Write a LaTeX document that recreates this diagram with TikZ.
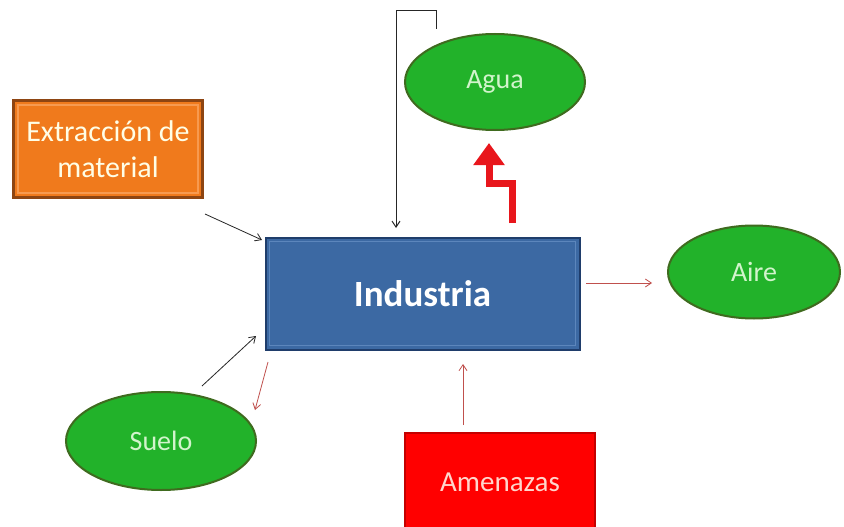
\documentclass[tikz,border=0pt]{standalone}
\usepackage{fontspec}
\setmainfont{Carlito}
\usetikzlibrary{shapes.geometric,arrows.meta}
\definecolor{grfill}{HTML}{22B22A}
\definecolor{grdraw}{HTML}{3F6B1F}
\definecolor{grtext}{HTML}{D2F4CC}
\definecolor{bluefill}{HTML}{3C69A3}
\definecolor{bluedraw}{HTML}{1F3D6B}
\definecolor{bluelite}{HTML}{5C86BC}
\definecolor{orfill}{HTML}{F07A1C}
\definecolor{ordraw}{HTML}{8E4512}
\definecolor{orlite}{HTML}{F79A50}
\definecolor{redfill}{HTML}{FF0000}
\definecolor{reddraw}{HTML}{C40000}
\definecolor{redtext}{HTML}{FFD6CC}
\definecolor{thinred}{HTML}{C0504D}
\definecolor{thickred}{HTML}{E8161C}
\tikzset{
  oval/.style={ellipse, fill=grfill, draw=grdraw, line width=2pt, text=grtext,
    font=\fontsize{28}{32}\selectfont, inner sep=0pt},
  darr/.style={-{Straight Barb[length=6pt,width=8pt]}, line width=0.8pt, black!85},
  rarr/.style={-{Straight Barb[length=6pt,width=8pt]}, line width=0.8pt, thinred},
}
\begin{document}
\begin{tikzpicture}[x=1pt,y=-1pt]
\useasboundingbox (0,0) rectangle (844,527);
\fill[white] (0,0) rectangle (844,527);
% Industria
\node[draw=bluedraw, fill=bluefill, line width=2pt, minimum width=314pt, minimum height=112pt,
  text=white, font=\fontsize{37}{40}\selectfont\bfseries, inner sep=0pt] (ind) at (422.5,293.5) {Industria};
\draw[bluelite, line width=1.2pt] ([shift={(5pt,-5pt)}]ind.north west) rectangle ([shift={(-5pt,5pt)}]ind.south east);
% Extraccion
\node[draw=ordraw, fill=orfill, line width=3pt, minimum width=189pt, minimum height=97pt,
  text=white!90!yellow, font=\fontsize{30}{36}\selectfont, align=center, inner sep=0pt] (ext) at (108,149) {Extracción de\\material};
\draw[orlite, line width=1.2pt] ([shift={(6pt,-6pt)}]ext.north west) rectangle ([shift={(-6pt,6pt)}]ext.south east);
% Amenazas
\node[draw=reddraw, fill=redfill, line width=1.5pt, minimum width=190pt, minimum height=110pt,
  inner sep=0pt, anchor=north] (ame) at (500,432) {};
\node[text=redtext, font=\fontsize{29}{32}\selectfont, inner sep=0pt] (ametxt) at (500,482) {Amenazas};
% Ovals
\node[oval, minimum width=180pt, minimum height=96pt] (agua) at (495,82) {Agua};
\node[oval, minimum width=172pt, minimum height=93pt] (aire) at (754,272) {Aire};
\node[oval, minimum width=190pt, minimum height=98pt] (suelo) at (161,441) {Suelo};
% connectors
\coordinate (e1) at (205,214);
\coordinate (e2) at (262,240);
\draw[darr] (e1) -- (e2);
\coordinate (s1) at (202,386);
\coordinate (s2) at (256,336);
\draw[darr] (s1) -- (s2);
\coordinate (r1) at (268,362);
\coordinate (r2) at (255,410);
\draw[rarr] (r1) -- (r2);
\coordinate (a1) at (586,283);
\coordinate (a2) at (652,283);
\draw[rarr] (a1) -- (a2);
\coordinate (m1) at (463,425);
\coordinate (m2) at (463,364);
\draw[rarr] (m1) -- (m2);
% bracket line into top of Industria
\coordinate (b0) at (436,29);
\coordinate (b1) at (436,11);
\coordinate (b2) at (396,11);
\coordinate (b3) at (396,228);
\draw[darr, line width=1pt] (b0) -- (b1) -- (b2) -- (b3);
% thick red stepped arrow
\coordinate (t0) at (512,223);
\coordinate (t1) at (512,183);
\coordinate (t2) at (489,183);
\coordinate (t3) at (489,143);
\draw[thickred, line width=7pt, -{Triangle[length=22pt,width=30pt]}] (t0) -- (t1) -- (t2) -- (t3);
\end{tikzpicture}
\end{document}
